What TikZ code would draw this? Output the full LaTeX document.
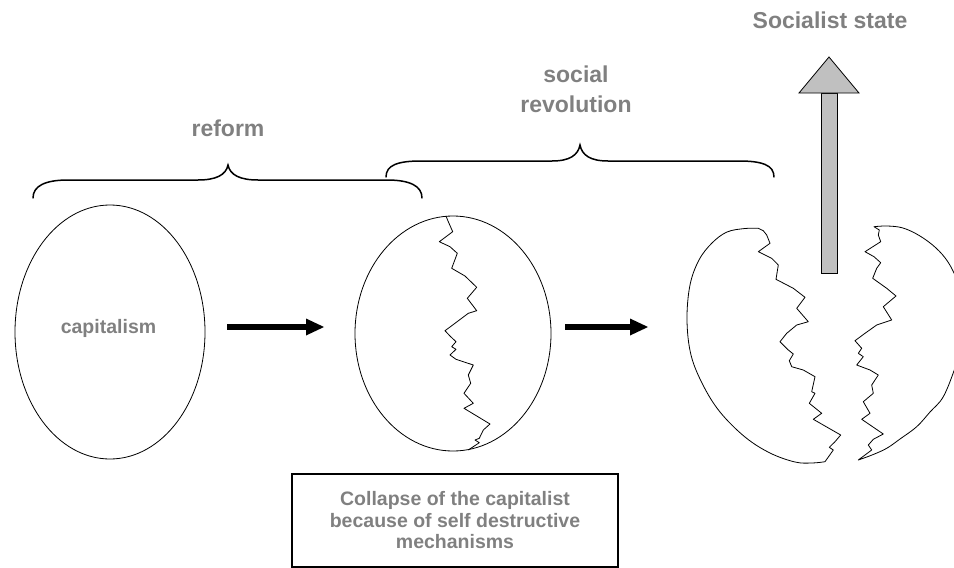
\documentclass[tikz,border=0pt]{standalone}
\usepackage{fontspec}
\setmainfont{Liberation Sans}
\usetikzlibrary{arrows.meta,shapes.geometric}
\definecolor{labelgray}{RGB}{128,128,128}
\definecolor{shaftgray}{RGB}{192,192,192}
\begin{document}
\begin{tikzpicture}[x=1pt,y=-1pt,
  egg/.style={ellipse, draw, line width=0.8pt, inner sep=0pt},
  crack/.style={line width=0.8pt, line join=round},
  bracket/.style={line width=1.5pt, line cap=round},
  biglabel/.style={font=\bfseries\fontsize{23}{30}\selectfont, text=labelgray, inner sep=0pt, align=center},
  smalllabel/.style={font=\bfseries\fontsize{19.5}{21.5}\selectfont, text=labelgray, inner sep=0pt, align=center},
  bigarrow/.style={line width=6.5pt, -{Triangle[length=18pt,width=17pt,line width=0pt]}},
  blockarrow/.style={line width=0.8pt, fill=shaftgray}
]
\useasboundingbox (0,0) rectangle (954,568);
\clip (0,0) rectangle (954,568);

% whole egg: capitalism
\node[egg, minimum width=190pt, minimum height=254pt] (egg1) at (110,332) {};
\node[smalllabel, anchor=base] (cap) at (108.5,333) {capitalism};

% cracked egg
\node[egg, minimum width=196pt, minimum height=235pt] (egg2) at (453,333.5) {};
\draw[crack] (446,216) -- (448.3,221.7) -- (452.7,231.7) -- (439.3,241.7) -- (450,246.7)
  -- (457.3,253.3) -- (451.7,268.3) -- (465,276) -- (476.7,287.3) -- (467.3,298.3)
  -- (476.7,310.7) -- (468.3,313.3) -- (455,323.3) -- (445,330.7) -- (450,336)
  -- (456,341.7) -- (451.7,346.7) -- (456,349.3) -- (450,355) -- (456,359.3)
  -- (473.3,365) -- (468.3,375) -- (470.7,383.3) -- (464,393.3) -- (473.3,403.3)
  -- (464,408.3) -- (490,424) -- (483.3,430) -- (479.3,438.3) -- (475,440)
  -- (479.3,442.7) -- (468.3,450);

% broken egg, left half
\draw[crack] plot[smooth, tension=0.6] coordinates {(758.3,228.3) (745,228.5) (727,232)
  (712,243) (699,260) (690,285) (687,320) (691,355) (703,385) (720,412) (745,437)
  (770,453) (795,462) (812,463) (825,461.7)}
  -- (833.3,450) -- (829.3,447.3) -- (835,441.7) -- (840.7,435) -- (813.3,419.3)
  -- (821.7,413.3) -- (809.3,403.3) -- (815,393.3) -- (811.7,391.7) -- (815,376.7)
  -- (803.3,370) -- (791.7,366.7) -- (789.3,360.7) -- (793.3,354) -- (788.3,350)
  -- (780,341.7) -- (786.7,333.3) -- (796.7,325) -- (808.3,321.7) -- (796.7,308.3)
  -- (805,297.3) -- (793.3,288.3) -- (776,279.3) -- (778.3,265) -- (771.7,258.3)
  -- (758.3,251.7) -- (770,243.3) -- (766.7,235) -- (763.3,230.7) -- cycle;

% broken egg, right half
\draw[crack] plot[smooth, tension=0.6] coordinates {(874,226.7) (887,226) (903,228)
  (920,236) (936,248) (948,262) (957,280) (963,300) (965,320) (962,345) (955,368)
  (943.3,396.7) (930,412) (916.7,426.7) (900,439) (886.7,448.3) (872,455) (858.3,460)}
  -- (871.7,450) -- (868.3,445) -- (873.3,439.3) -- (883.3,434) -- (861.7,419.3)
  -- (870,413.3) -- (863.3,401.7) -- (873.3,393.3) -- (871.7,385) -- (878.3,375)
  -- (870,370) -- (856.7,365) -- (863.3,356.7) -- (858.3,353.3) -- (861.7,348.3)
  -- (855,340.7) -- (865,333.3) -- (876.7,325) -- (891.7,320) -- (883.3,306.7)
  -- (896,296) -- (886.7,288.3) -- (872.7,278.3) -- (876.7,268.3) -- (880.7,262.7)
  -- (874,256.7) -- (865,251.7) -- (880.7,241.7) -- (878.3,235) -- (879.3,230) -- cycle;

% arrows between the stages
\coordinate (a1s) at (227,327);
\coordinate (a1e) at (324,327);
\coordinate (a2s) at (565,327);
\coordinate (a2e) at (648,327);
\draw[bigarrow] (a1s) -- (a1e);
\draw[bigarrow] (a2s) -- (a2e);

% block arrow rising out of the broken egg
\draw[blockarrow] (821,93) rectangle (837,273);
\draw[blockarrow, line join=miter] (799,93) -- (829,57) -- (859,93) -- cycle;
\node[biglabel, anchor=base] (goal) at (830,28) {Socialist state};

% braces
\draw[bracket] (33,198) .. controls (33,186) and (45,180) .. (68,180) -- (198,180)
  .. controls (216,180) and (226,175) .. (228,165)
  .. controls (230,175) and (240,180) .. (258,180) -- (387,180)
  .. controls (410,180) and (422,186) .. (422,198);
\node[biglabel, anchor=base] (reform) at (228,136) {reform};

\draw[bracket] (386,177) .. controls (386,165) and (398,161) .. (421,161) -- (552,161)
  .. controls (570,161) and (578,155) .. (580,145)
  .. controls (582,155) and (590,161) .. (608,161) -- (739,161)
  .. controls (762,161) and (774,165) .. (774,177);
\node[biglabel] (revo) at (576,89) {social\\revolution};

% caption box
\node[draw, line width=1.3pt, minimum width=326pt, minimum height=93pt, smalllabel]
  (collapse) at (455,520.5) {Collapse of the capitalist\\because of self destructive\\mechanisms};
\end{tikzpicture}
\end{document}
